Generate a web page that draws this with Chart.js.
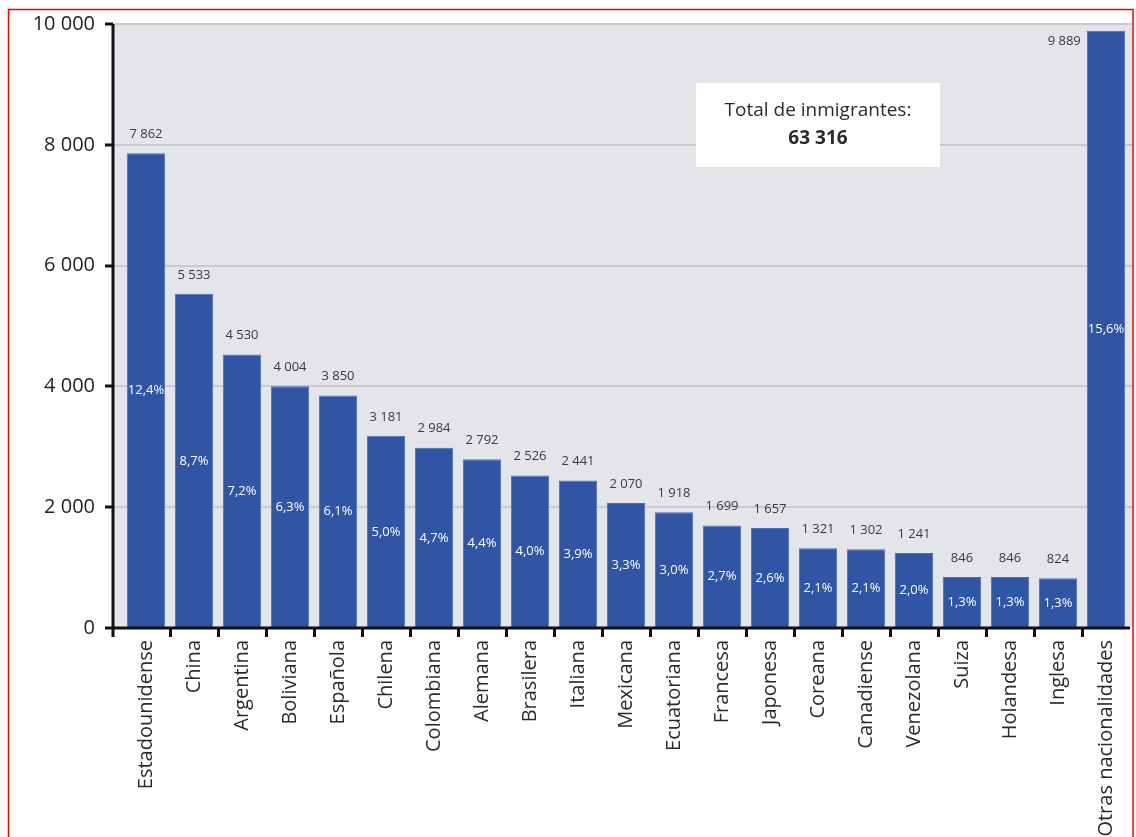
<!DOCTYPE html>
<html>
<head>
<meta charset="utf-8">
<script src="https://cdn.jsdelivr.net/npm/chart.js@4.4.1/dist/chart.umd.min.js"></script>
<style>
  html, body { margin: 0; padding: 0; background: #fff; }
  #wrap { width: 1136px; height: 837px; position: relative; }
</style>
</head>
<body>
<div id="wrap"><canvas id="inmigrantes-chart" width="1136" height="837"></canvas></div>
<script>
// Data
const categories = ['Estadounidense', 'China', 'Argentina', 'Boliviana', 'Española', 'Chilena',
    'Colombiana', 'Alemana', 'Brasilera', 'Italiana', 'Mexicana', 'Ecuatoriana', 'Francesa',
    'Japonesa', 'Coreana', 'Canadiense', 'Venezolana', 'Suiza', 'Holandesa', 'Inglesa',
    'Otras nacionalidades'];
const immigrants = [7862, 5533, 4530, 4004, 3850, 3181, 2984, 2792, 2526, 2441, 2070, 1918,
    1699, 1657, 1321, 1302, 1241, 846, 846, 824, 9889];
const shares = [12.4, 8.7, 7.2, 6.3, 6.1, 5.0, 4.7, 4.4, 4.0, 3.9, 3.3, 3.0, 2.7, 2.6, 2.1,
    2.1, 2.0, 1.3, 1.3, 1.3, 15.6];
const yTicks = [0, 2000, 4000, 6000, 8000, 10000];
const totalLabel = 'Total de inmigrantes:';
const totalValue = '63 316';

const FONT = '"Open Sans", "DejaVu Sans", sans-serif';
const AXIS_GAP = 9; // y axis sits a little left of the first category

function fmtThousands(v) {
    return String(v).replace(/\B(?=(\d{3})+(?!\d))/g, ' ');
}
function fmtPct(v) {
    return v.toFixed(1).replace('.', ',') + '%';
}

// gray plot background, horizontal gridlines
const backgroundPlugin = {
    id: 'plotBackground',
    beforeDatasetsDraw(chart) {
        const { ctx, chartArea, scales } = chart;
        const left = chartArea.left - AXIS_GAP;
        ctx.save();
        ctx.fillStyle = '#e4e5e8';
        ctx.fillRect(left, chartArea.top, chartArea.right + 2 - left, chartArea.bottom - chartArea.top);
        ctx.strokeStyle = '#c8c9cc';
        ctx.lineWidth = 2;
        yTicks.forEach(t => {
            if (t === 0) return;
            const y = Math.round(scales.y.getPixelForValue(t));
            ctx.beginPath();
            ctx.moveTo(left, y);
            ctx.lineTo(chartArea.right + 2, y);
            ctx.stroke();
        });
        ctx.restore();
    }
};

// axes lines, labels on bars, total box, red frame
const overlayPlugin = {
    id: 'overlay',
    afterDraw(chart) {
        const { ctx, chartArea, scales } = chart;
        const axisX = chartArea.left - AXIS_GAP;
        ctx.save();

        // axes
        ctx.strokeStyle = '#111';
        ctx.lineWidth = 3;
        ctx.beginPath();
        ctx.moveTo(axisX, chartArea.top);
        ctx.lineTo(axisX, chartArea.bottom + 9);
        ctx.moveTo(axisX - 1.5, chartArea.bottom);
        ctx.lineTo(chartArea.right, chartArea.bottom);
        ctx.stroke();
        yTicks.forEach(t => {
            const y = Math.round(scales.y.getPixelForValue(t));
            ctx.beginPath();
            ctx.moveTo(axisX - 8, y);
            ctx.lineTo(axisX, y);
            ctx.stroke();
        });

        // value and share labels
        const meta = chart.getDatasetMeta(0);
        meta.data.forEach((bar, i) => {
            ctx.font = '13px ' + FONT;
            ctx.textBaseline = 'middle';
            ctx.fillStyle = '#3a3a3a';
            const valText = fmtThousands(immigrants[i]);
            if (bar.y - 24 < chartArea.top) {
                ctx.textAlign = 'right';
                ctx.fillText(valText, bar.x - bar.width / 2 - 6, bar.y + 11);
            } else {
                ctx.textAlign = 'center';
                ctx.fillText(valText, bar.x, bar.y - 19);
            }
            ctx.textAlign = 'center';
            ctx.fillStyle = '#ffffff';
            ctx.fillText(fmtPct(shares[i]), bar.x, (bar.y + bar.base) / 2);
        });

        // total box
        const boxCx = scales.x.getPixelForValue(14);
        const boxW = 244, boxH = 84, boxTop = chartArea.top + 59;
        ctx.fillStyle = '#ffffff';
        ctx.fillRect(boxCx - boxW / 2, boxTop, boxW, boxH);
        ctx.fillStyle = '#2b2b2b';
        ctx.textAlign = 'center';
        ctx.textBaseline = 'middle';
        ctx.font = '19px ' + FONT;
        ctx.fillText(totalLabel, boxCx, boxTop + 28);
        ctx.font = 'bold 19px ' + FONT;
        ctx.fillText(totalValue, boxCx, boxTop + 56);

        // red frame
        ctx.strokeStyle = '#ff0000';
        ctx.lineWidth = 1.5;
        ctx.strokeRect(8.5, 9.5, 1124.5, 900);
        ctx.restore();
    }
};

const ctxEl = document.getElementById('inmigrantes-chart');
new Chart(ctxEl.getContext('2d'), {
    type: 'bar',
    data: {
        labels: categories,
        datasets: [{
            label: 'Inmigrantes',
            data: immigrants,
            backgroundColor: '#2f55a4',
            borderColor: '#4d6fb6',
            borderWidth: 1,
            barPercentage: 0.8,
            categoryPercentage: 1
        }]
    },
    options: {
        responsive: false,
        animation: false,
        layout: {
            padding: { top: 24, right: 6, left: 0, bottom: 0 }
        },
        plugins: {
            legend: { display: false },
            tooltip: { enabled: false }
        },
        scales: {
            y: {
                min: 0,
                max: 10000,
                afterFit: s => {
                    s.width = 122;
                    s.paddingTop = 0;
                    s.paddingBottom = 0;
                },
                afterBuildTicks: s => { s.ticks = yTicks.map(v => ({ value: v })); },
                border: { display: false },
                grid: { display: false, drawTicks: false },
                ticks: {
                    padding: 27,
                    color: '#222',
                    font: { family: FONT, size: 20 },
                    callback: v => fmtThousands(v)
                }
            },
            x: {
                afterFit: s => {
                    s.height = 837 - 628;
                    s.paddingLeft = 0;
                    s.paddingRight = 0;
                },
                border: { display: false },
                grid: {
                    offset: true,
                    drawOnChartArea: false,
                    tickLength: 9,
                    lineWidth: 3,
                    color: c => (c.type !== 'tick' || c.index === 0) ? 'rgba(0,0,0,0)' : '#111'
                },
                ticks: {
                    autoSkip: false,
                    minRotation: 90,
                    maxRotation: 90,
                    padding: 3,
                    color: '#2b2b2b',
                    font: { family: FONT, size: 20 }
                }
            }
        }
    },
    plugins: [backgroundPlugin, overlayPlugin]
});
</script>
</body>
</html>
